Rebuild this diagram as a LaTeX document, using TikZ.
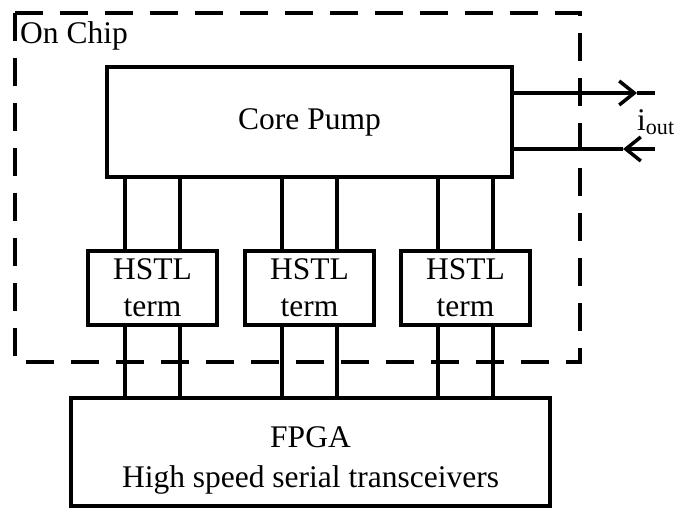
\documentclass[tikz,border=0pt]{standalone}
\usepackage{fontspec}
\setmainfont{Liberation Serif}
\usepackage{tikz}
\usetikzlibrary{arrows.meta, positioning, calc}

\begin{document}
\begin{tikzpicture}[
        x=1pt, y=-1pt,
        every node/.style={font=\fontsize{31.5}{37}\selectfont},
        block/.style={draw, rectangle, line width=3.5pt, align=center, inner sep=0pt, outer sep=0pt},
        term/.style={block, minimum width=129pt, minimum height=74pt},
        wire/.style={line width=3.5pt},
        flow/.style={wire, -{Straight Barb[length=15pt, width=24pt]}},
        chip/.style={line width=3.5pt, dash pattern=on 28pt off 17pt}
    ]

        \useasboundingbox (0,0) rectangle (675,508);

        \draw[chip] (15,13) rectangle (580,362);
        \node[anchor=north west, inner sep=0pt] (onchip) at (20,21) {On Chip};

        \node[block, minimum width=405pt, minimum height=110pt] (core) at (309.5,122) {Core Pump};
        \node[term, below=74pt of core] (h2) {HSTL\\term};
        \node[term, left=28pt of h2] (h1) {HSTL\\term};
        \node[term, right=27pt of h2] (h3) {HSTL\\term};
        \node[block, minimum width=479pt, minimum height=108pt, below=73pt of h2, xshift=1pt] (fpga) {\rule{0pt}{37pt}FPGA\\[3pt]High speed serial transceivers};

        % links core -- terminations -- fpga
        \foreach \n in {1,2,3}
            \foreach \dx in {-27.5,27.5} {
                \draw[wire] ([xshift=\dx]h\n.north) -- ([xshift=\dx]h\n.north |- core.south);
                \draw[wire] ([xshift=\dx]h\n.south) -- ([xshift=\dx]h\n.south |- fpga.north);
            }

        % output current
        \coordinate (outtip) at (637,93);
        \coordinate (outend) at (655,93);
        \coordinate (intip) at (623,149);
        \coordinate (inend) at (655,149);
        \draw[flow] (core.east |- outtip) -- (outtip);
        \draw[wire] (outtip) -- (outend);
        \draw[flow] (inend) -- (intip);
        \draw[wire] (intip) -- (core.east |- intip);
        \node[anchor=west, inner sep=0pt] (iout) at (637,122) {i\textsubscript{out}};
    \end{tikzpicture}
\end{document}
